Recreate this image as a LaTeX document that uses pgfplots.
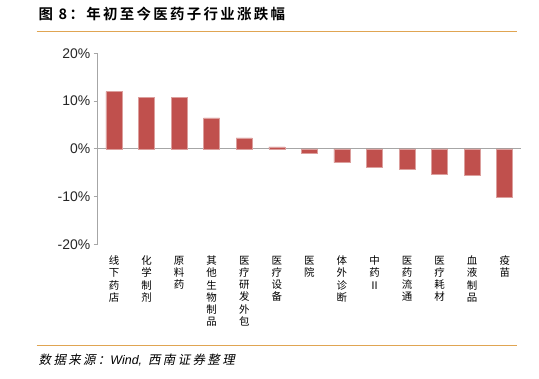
\documentclass[border=0pt]{standalone}
\usepackage{fontspec}
\usepackage{pgfplots}
\pgfplotsset{compat=1.18}
\setmainfont{Liberation Sans}
\newfontfamily\cjk[BoldFont={Noto Sans CJK SC Bold}]{Noto Sans CJK SC}
\newfontfamily\cjkslant[FakeSlant=0.2]{Noto Sans CJK SC}
\definecolor{barred}{HTML}{C0504D}
\definecolor{axisgray}{HTML}{A6A6A6}
\definecolor{rule}{HTML}{E0A552}
\begin{document}
\begin{tikzpicture}[x=1bp,y=1bp]
\path[use as bounding box] (0,0) rectangle (539,378);
\node[anchor=west,inner sep=0pt] at (38.5,364) {\cjk\bfseries\fontsize{14.5}{15}\selectfont\addfontfeature{LetterSpace=16}图 8：年初至今医药子行业涨跌幅};
\draw[rule, line width=1bp] (36.7,346.3) -- (516.7,346.3);
\draw[rule, line width=1bp] (36.7,32.3) -- (516.7,32.3);
\node[anchor=west,inner sep=0pt] at (38.5,18) {\cjkslant\fontsize{12.5}{13}\selectfont\addfontfeature{LetterSpace=19}数据来源：\textit{\rmfamily Wind,}\hspace{6bp}西南证券整理};
\begin{axis}[
  at={(97.7bp,133.7bp)}, anchor=south west, scale only axis,
  width=423.3bp, height=191bp,
  xmin=-0.5, xmax=12.5, ymin=-20, ymax=20,
  axis y line*=left, axis x line*=bottom,
  x axis line style={draw=none},
  y axis line style={draw=axisgray, line width=0.8pt},
  ytick={-20,-10,0,10,20},
  yticklabels={-20\%,-10\%,0\%,10\%,20\%},
  yticklabel style={font=\fontsize{14}{14}\selectfont, text=black!85},
  ytick style={draw=axisgray, line width=0.8pt},
  tick align=outside, major tick length=4bp,
  xtick={0,...,12},
  xtick style={draw=none},
  xticklabels={{线\\下\\药\\店},{化\\学\\制\\剂},{原\\料\\药},{其\\他\\生\\物\\制\\品},{医\\疗\\研\\发\\外\\包},{医\\疗\\设\\备},{医\\院},{体\\外\\诊\\断},{中\\药\\Ⅱ},{医\\药\\流\\通},{医\\疗\\耗\\材},{血\\液\\制\\品},{疫\\苗}},
  xticklabel style={font=\cjk\fontsize{10.5}{12.3}\selectfont, align=center, anchor=north, yshift=-4bp},
]
\draw[axisgray, line width=0.8pt] (axis cs:-0.5,0) -- (axis cs:12.5,0);
\addplot[ybar, bar width=16bp, fill=barred, draw=barred!55!white, line width=0.5pt] coordinates {
(0,12.0) (1,10.8) (2,10.7) (3,6.5) (4,2.3) (5,0.4) (6,-0.9) (7,-2.9) (8,-3.9) (9,-4.3) (10,-5.3) (11,-5.5) (12,-10.1)
};
\end{axis}
\end{tikzpicture}
\end{document}
